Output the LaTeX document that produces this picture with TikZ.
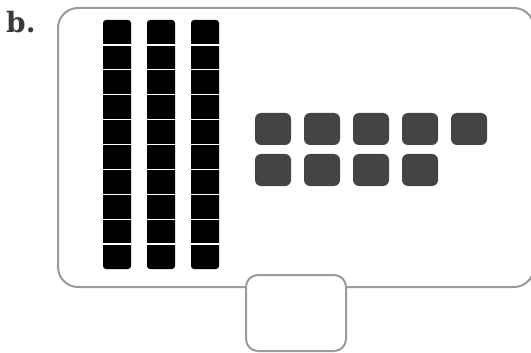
\documentclass[tikz,border=0pt]{standalone}
\usepackage{fontspec}
\newfontfamily\labelfont{DejaVu Serif}
\usetikzlibrary{calc}
\definecolor{frame}{HTML}{9A9A9A}
\definecolor{dotgray}{HTML}{444444}
\definecolor{labelgray}{HTML}{3A3A3A}
\tikzset{
  cardbox/.style={draw=frame, line width=2pt, rounded corners=20pt, fill=white, inner sep=0pt, outer sep=0pt, anchor=north west},
  tabbox/.style={draw=frame, line width=2pt, rounded corners=12pt, fill=white, inner sep=0pt, outer sep=0pt, anchor=north west, minimum width=100pt, minimum height=76pt},
  rod/.style={fill=black, rounded corners=3pt, inner sep=0pt, outer sep=0pt, anchor=north west, minimum width=28pt, minimum height=249pt},
  unitline/.style={draw=white, line width=1.3pt},
  onedot/.style={fill=dotgray, rounded corners=6pt, inner sep=0pt, outer sep=0pt, anchor=north west, minimum width=36pt, minimum height=32pt},
}
\begin{document}
\begin{tikzpicture}[x=1pt,y=-1pt]
\useasboundingbox (0,0) rectangle (531,353);
\clip (0,0) rectangle (531,353);
\node[anchor=base west, inner sep=0pt, text=labelgray, font=\labelfont\bfseries\fontsize{28}{28}\selectfont] (lbl) at (6,33) {b.};
\node[cardbox, minimum width=476pt, minimum height=279pt] (card) at (58,8) {};
\node[tabbox] (tab) at (246,275) {};
\foreach \i/\x in {1/103,2/147,3/191}{
  \node[rod] (rod\i) at (\x,20) {};
  \foreach \k in {1,...,9}{
    \draw[unitline] ($(rod\i.north west)!\k/10!(rod\i.south west)$) -- ($(rod\i.north east)!\k/10!(rod\i.south east)$);
  }
}
\foreach \j in {0,...,4}{
  \node[onedot] (a\j) at (255+49*\j,113) {};
}
\foreach \j in {0,...,3}{
  \node[onedot] (b\j) at (255+49*\j,154) {};
}
\end{tikzpicture}
\end{document}
